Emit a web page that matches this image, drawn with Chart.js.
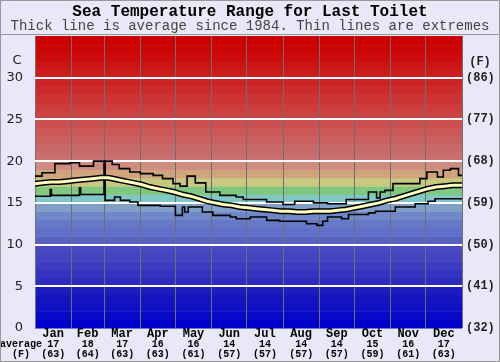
<!DOCTYPE html>
<html>
<head>
<meta charset="utf-8">
<script src="https://cdn.jsdelivr.net/npm/chart.js@4/dist/chart.umd.min.js"></script>
<style>
  html, body { margin: 0; padding: 0; background: #e8e8f8; }
  #wrap { width: 500px; height: 362px; position: relative; }
</style>
</head>
<body>
<div id="wrap"><canvas id="c" width="500" height="362"></canvas></div>
<script>
// ---- Data ----
const months = ["Jan","Feb","Mar","Apr","May","Jun","Jul","Aug","Sep","Oct","Nov","Dec"];
const monthAvgC = [17,18,17,16,16,14,14,14,14,15,16,17];
const monthAvgF = [63,64,63,63,61,57,57,57,57,59,61,63];
const monthStarts = [0,31,59,90,120,151,181,212,243,273,304,334,365];
const monthMids = [15.5,45,74.5,105,135.5,166,196.5,227.5,258,288.5,319,349.5];

const avgDays = [0,7,14,21,28,35,42,49,56,63,70,77,84,91,98,105,112,119,126,133,140,147,154,161,168,175,182,189,196,203,210,217,224,231,238,245,252,259,266,273,280,287,294,301,308,315,322,329,336,343,350,357,365];
const avgVals = [17.3,17.4,17.5,17.5,17.6,17.7,17.8,17.9,18.0,18.0,17.8,17.6,17.4,17.2,16.9,16.7,16.5,16.3,16.0,15.8,15.5,15.2,15.0,14.8,14.7,14.5,14.4,14.3,14.2,14.1,14.0,14.0,13.9,13.9,14.0,14.0,14.0,14.1,14.2,14.4,14.6,14.8,15.0,15.3,15.5,15.8,16.1,16.4,16.7,16.9,17.0,17.1,17.1];

const maxDays = [0,6,17,30,38,50,66,72,81,90,101,109,118,124,130,137,146,158,172,178,198,212,222,238,250,266,285,292,295,299,306,329,335,344,349,355,362,365];
const maxVals = [18.2,18.6,19.7,19.8,19.4,20.0,19.6,19.1,18.7,18.5,18.3,17.9,17.3,17.0,18.2,17.4,16.3,15.9,15.7,15.4,15.1,14.8,15.2,15.0,14.9,15.4,16.3,15.6,16.3,16.5,17.3,17.9,18.7,18.1,18.9,19.1,18.3,18.3];

const minDays = [0,13,14,38,39,59,60,68,73,81,88,107,120,126,128,131,143,152,167,172,184,198,209,232,241,246,250,262,268,285,291,308,325,336,342,365];
const minVals = [15.8,16.6,15.9,16.8,16.0,20.0,15.3,15.7,15.3,15.1,14.7,14.6,13.5,14.5,13.9,14.5,13.9,13.5,13.3,13.1,13.3,12.9,12.8,12.5,12.3,12.8,13.3,13.1,13.6,13.8,14.0,14.5,14.9,15.2,15.5,15.4];

// colour of each 1-degree band, index = lower bound in C
const bandColors = [
  "#0000cc","#0808c8","#1010c4","#1414c0","#1c1cc0",
  "#2c2cc0","#3434c0","#3c3cc0","#4444c0","#4848c0",
  "#5860c0","#6070c8","#6878c8","#7088c8","#80a0c8",
  "#80c8c8","#80c880","#c8c880","#d0a47c","#d08c80",
  "#c87070","#c86868","#c86060","#cc5858","#cc5050",
  "#cc4444","#cc3c3c","#cc3434","#cc2c2c","#cc2424",
  "#cc1c1c","#cc1414","#cc0c0c","#cc0606","#cc0000"
];

const pts = (xs, ys) => xs.map((x, i) => ({x: x, y: ys[i]}));

const bgPlugin = {
  id: 'bg',
  beforeDraw(chart) {
    const ctx = chart.ctx, a = chart.chartArea, y = chart.scales.y;
    ctx.save();
    ctx.fillStyle = '#e8e8f8';
    ctx.fillRect(0, 0, chart.width, chart.height);
    bandColors.forEach((c, i) => {
      const top = y.getPixelForValue(i + 1), bot = y.getPixelForValue(i);
      ctx.fillStyle = c;
      ctx.fillRect(a.left, top, a.right - a.left, bot - top + 0.5);
    });
    ctx.restore();
  },
  afterDraw(chart) {
    const ctx = chart.ctx, x = chart.scales.x;
    ctx.save();
    ctx.textAlign = 'center';
    ctx.textBaseline = 'middle';
    ctx.fillStyle = '#000';
    ctx.font = 'bold 16px "Liberation Mono", monospace';
    ctx.fillText('Sea Temperature Range for Last Toilet', 250, 12);
    ctx.fillStyle = '#444';
    ctx.font = '14px "Liberation Mono", monospace';
    ctx.fillText('Thick line is average since 1984. Thin lines are extremes', 250, 26);
    // axis unit labels
    ctx.fillStyle = '#222';
    ctx.font = '13px "DejaVu Sans", sans-serif';
    ctx.fillText('C', 17, 61);
    ctx.font = 'bold 12px "Liberation Mono", monospace';
    ctx.fillText('(F)', 480, 62);
    // month labels
    ctx.fillStyle = '#000';
    monthMids.forEach((d, i) => {
      const px = x.getPixelForValue(d);
      ctx.font = 'bold 12px "Liberation Mono", monospace';
      ctx.fillText(months[i], px, 334);
      ctx.font = 'bold 10px "Liberation Mono", monospace';
      ctx.fillText(String(monthAvgC[i]), px, 344);
      ctx.fillText('(' + monthAvgF[i] + ')', px, 354);
    });
    ctx.font = 'bold 10px "Liberation Mono", monospace';
    ctx.fillText('average', 21, 344);
    ctx.fillText('(F)', 21, 354);
    // frame
    ctx.strokeStyle = '#999';
    ctx.lineWidth = 1;
    ctx.strokeRect(0.5, 0.5, chart.width - 1, chart.height - 1);
    ctx.beginPath();
    ctx.moveTo(0, 34.5); ctx.lineTo(chart.width, 34.5);
    ctx.stroke();
    ctx.restore();
  }
};

new Chart(document.getElementById('c'), {
  type: 'line',
  data: {
    datasets: [
      { data: pts(maxDays, maxVals), borderColor: '#000', borderWidth: 1.6, stepped: true, pointRadius: 0, order: 3 },
      { data: pts(minDays, minVals), borderColor: '#000', borderWidth: 1.6, stepped: true, pointRadius: 0, order: 3 },
      { data: pts(avgDays, avgVals), borderColor: '#000', borderWidth: 6, pointRadius: 0, order: 2 },
      { data: pts(avgDays, avgVals), borderColor: '#ffffc0', borderWidth: 3, pointRadius: 0, order: 1 }
    ]
  },
  options: {
    responsive: false,
    animation: false,
    events: [],
    layout: { padding: { top: 36, left: 0, right: 0, bottom: 0 } },
    plugins: { legend: { display: false }, tooltip: { enabled: false }, title: { display: false } },
    scales: {
      x: {
        type: 'linear', min: 0, max: 365,
        afterBuildTicks: s => { s.ticks = monthStarts.map(v => ({ value: v })); },
        afterFit: s => { s.height = 34; },
        ticks: { display: false },
        grid: { color: '#6e6e6e', lineWidth: 1, drawTicks: false },
        border: { display: false }
      },
      y: {
        position: 'left', min: 0, max: 35,
        afterFit: s => { s.width = 35; },
        ticks: { stepSize: 5, padding: 12, color: '#222', font: { family: 'DejaVu Sans', size: 13 },
                 callback: v => v === 35 ? '' : String(v) },
        grid: { drawTicks: false, lineWidth: 2,
                color: c => (c.tick && c.tick.value > 0 && c.tick.value < 35) ? '#ffffff' : 'rgba(0,0,0,0)' },
        border: { display: false }
      },
      y2: {
        position: 'right', min: 0, max: 35,
        afterFit: s => { s.width = 38; },
        ticks: { stepSize: 5, padding: 4, color: '#222', font: { family: 'Liberation Mono', size: 12, weight: 'bold' },
                 callback: v => v === 35 ? '' : '(' + Math.round(v * 9 / 5 + 32) + ')' },
        grid: { display: false, drawTicks: false },
        border: { display: false }
      }
    }
  },
  plugins: [bgPlugin]
});
</script>
</body>
</html>
